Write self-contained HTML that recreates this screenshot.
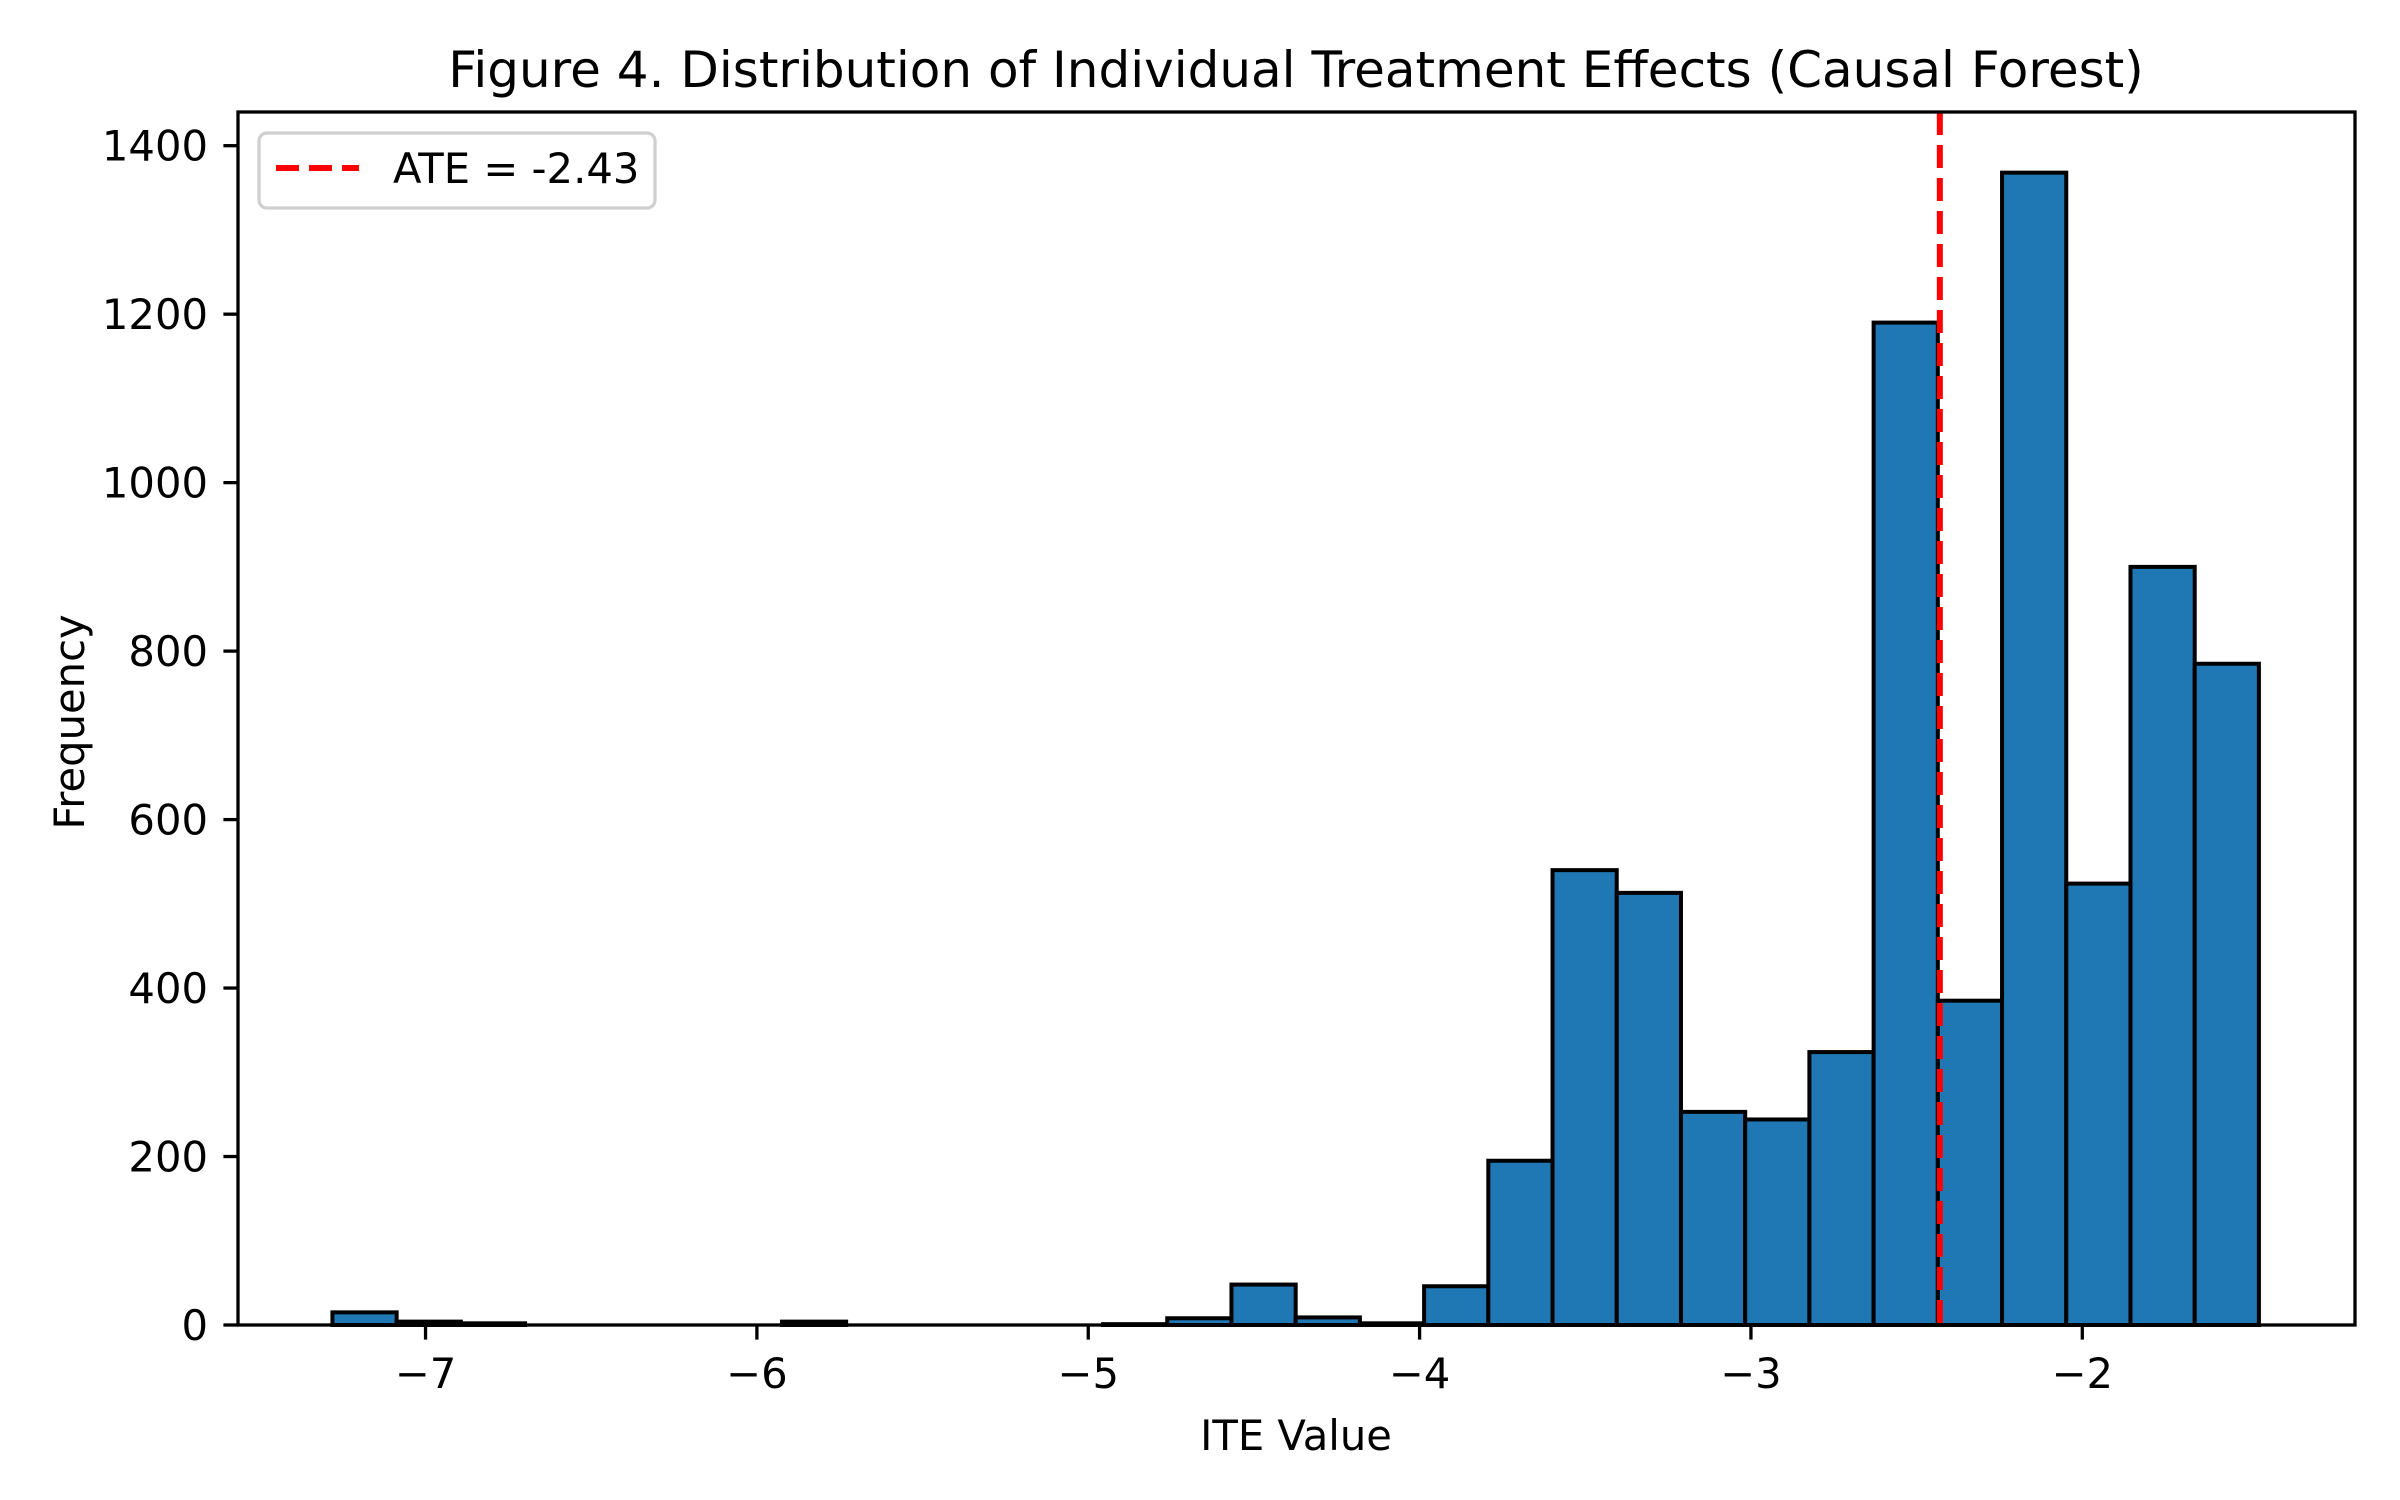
<!DOCTYPE html>
<html><head><meta charset="utf-8"><style>
html,body{margin:0;padding:0;background:#fff;}
svg{display:block;font-family:"DejaVu Sans","Liberation Sans",sans-serif;}
</style></head><body>
<svg id="chart" width="2400" height="1500" viewBox="0 0 2400 1500" xmlns="http://www.w3.org/2000/svg">
<rect x="0" y="0" width="2400" height="1500" fill="#fff"/>
<text x="1296" y="87" font-size="50" text-anchor="middle" fill="#000">Figure 4. Distribution of Individual Treatment Effects (Causal Forest)</text>
<g id="bars"></g>
<g id="xticks"></g>
<g id="yticks"></g>
<line id="ateline" stroke="#ff0000" stroke-width="6" stroke-dasharray="23,10"/>
<rect x="238" y="112" width="2117" height="1213" fill="none" stroke="#000" stroke-width="3.3"/>
<text x="1296" y="1450" font-size="41.7" text-anchor="middle" fill="#000">ITE Value</text>
<text x="0" y="0" font-size="41.7" text-anchor="middle" fill="#000" transform="translate(84,722) rotate(-90)">Frequency</text>
<g>
<rect x="259" y="133" width="396" height="75" rx="8" fill="#fff" fill-opacity="0.8" stroke="#d0d0d0" stroke-width="3.3"/>
<line x1="276" y1="168" x2="359" y2="168" stroke="#ff0000" stroke-width="6" stroke-dasharray="23,10"/>
<text x="393" y="183" font-size="41.7" fill="#000">ATE = -2.43</text>
</g>
</svg>
<script>
const counts = [15,4,2,0,0,0,0,4,0,0,0,0,1,8,48,9,2,46,195,540,513,253,244,324,1190,385,1368,524,900,785];
const binStart = [-7.281];
const binWidth = [0.1938];
const ateValue = [-2.43];
const xTickValues = [-7,-6,-5,-4,-3,-2];
const xTickLabels = ["\u22127","\u22126","\u22125","\u22124","\u22123","\u22122"];
const yTickValues = [0,200,400,600,800,1000,1200,1400];
const yTickLabels = ["0","200","400","600","800","1000","1200","1400"];

const NS = "http://www.w3.org/2000/svg";
const X0 = 238, X1 = 2355, Y0 = 1325, Y1 = 112;
const xMin = -7.566, xMax = -1.177, yMin = 0, yMax = 1440;
function xs(v){ return X0 + (v - xMin) / (xMax - xMin) * (X1 - X0); }
function ys(v){ return Y0 - (v - yMin) / (yMax - yMin) * (Y0 - Y1); }
function mk(tag, attrs){ const e = document.createElementNS(NS, tag); for (const k in attrs) e.setAttribute(k, attrs[k]); return e; }

const bars = document.getElementById('bars');
counts.forEach((c, i) => {
  const l = binStart[0] + i * binWidth[0], r = l + binWidth[0];
  const r1 = mk('rect', {x: xs(l), y: ys(c), width: xs(r) - xs(l), height: ys(0) - ys(c), fill: '#1f77b4', stroke: '#000', 'stroke-width': 4});
  
  
  bars.appendChild(r1);
});

const xg = document.getElementById('xticks');
xTickValues.forEach((v, i) => {
  const x = xs(v);
  const t = mk('line', {x1: x, x2: x, y1: Y0, y2: Y0 + 14.6, stroke: '#000', 'stroke-width': 3.3});
  
  
  xg.appendChild(t);
  const tx = mk('text', {x: x, y: 1388, 'font-size': 41.7, 'text-anchor': 'middle', fill: '#000'});
  tx.textContent = xTickLabels[i];
  
  
  xg.appendChild(tx);
});

const yg = document.getElementById('yticks');
yTickValues.forEach((v, i) => {
  const y = ys(v);
  const t = mk('line', {x1: X0 - 14.6, x2: X0, y1: y, y2: y, stroke: '#000', 'stroke-width': 3.3});
  
  
  yg.appendChild(t);
  const tx = mk('text', {x: 208, y: y + 15, 'font-size': 41.7, 'text-anchor': 'end', fill: '#000'});
  tx.textContent = yTickLabels[i];
  
  
  yg.appendChild(tx);
});

const al = document.getElementById('ateline');
al.setAttribute('x1', xs(ateValue[0]));
al.setAttribute('x2', xs(ateValue[0]));
al.setAttribute('y1', Y1);
al.setAttribute('y2', Y0);
</script>
</body></html>
